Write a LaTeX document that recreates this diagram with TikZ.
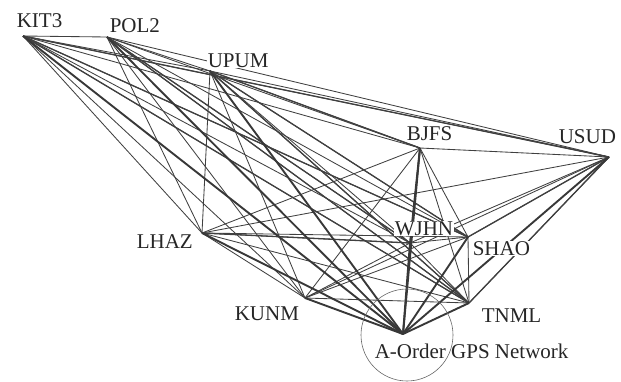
\documentclass[tikz,border=0pt]{standalone}
\usepackage{fontspec}
\setmainfont{Liberation Serif}
\begin{document}
\begin{tikzpicture}[x=1pt,y=-1pt,
  link/.style={draw=black!75, line width=0.85pt},
  midlink/.style={draw=black!75, line width=1.3pt},
  heavy/.style={draw=black!78, line width=1.9pt},
  lbl/.style={anchor=base west, inner sep=0.6pt, fill=white, font=\fontsize{21}{21}\selectfont, text=black!85},
  ring/.style={draw=black!60, line width=0.6pt, circle, inner sep=0pt, minimum size=92pt},
]
\useasboundingbox (0,0) rectangle (621,381);
% station points
\coordinate (KIT3) at (23,36);
\coordinate (POL2) at (107,37);
\coordinate (UPUM) at (210,71);
\coordinate (BJFS) at (420,148);
\coordinate (USUD) at (609,157);
\coordinate (LHAZ) at (202,233);
\coordinate (WJHN) at (410,243);
\coordinate (SHAO) at (468,237);
\coordinate (KUNM) at (305,298);
\coordinate (TNML) at (469,303);
\coordinate (AORD) at (403,334);
% baselines
\def\names{KIT3,POL2,UPUM,BJFS,USUD,LHAZ,WJHN,SHAO,KUNM,TNML}
\foreach \a [count=\i] in \names {
  \foreach \b [count=\j] in \names {
    \ifnum\j>\i \draw[link] (\a) -- (\b); \fi
  }
}
\foreach \a/\b in {KIT3/SHAO,KIT3/TNML,POL2/TNML,POL2/WJHN,UPUM/TNML,UPUM/SHAO,LHAZ/WJHN,USUD/SHAO,USUD/TNML,KIT3/USUD,UPUM/BJFS}
  \draw[midlink] (\a) -- (\b);
\foreach \a in \names \draw[heavy] (\a) -- (AORD);
\draw[heavy] (BJFS) -- (WJHN);
% labels
\node[lbl] (tKIT3) at (16,27) {KIT3};
\node[lbl] (tPOL2) at (109,32) {POL2};
\node[lbl] (tUPUM) at (207,67) {UPUM};
\node[lbl] (tBJFS) at (406,140) {BJFS};
\node[lbl] (tUSUD) at (558,143) {USUD};
\node[lbl] (tLHAZ) at (136,248) {LHAZ};
\node[lbl] (tWJHN) at (394,235) {WJHN};
\node[lbl] (tSHAO) at (472,255) {SHAO};
\node[lbl] (tKUNM) at (234,320) {KUNM};
\node[lbl] (tTNML) at (481,322) {TNML};
\node[lbl, fill=none] (tNet) at (374,358) {A-Order GPS Network};
\node[ring] (circ) at ([xshift=4pt,yshift=-1pt]AORD) {};
\end{tikzpicture}
\end{document}
